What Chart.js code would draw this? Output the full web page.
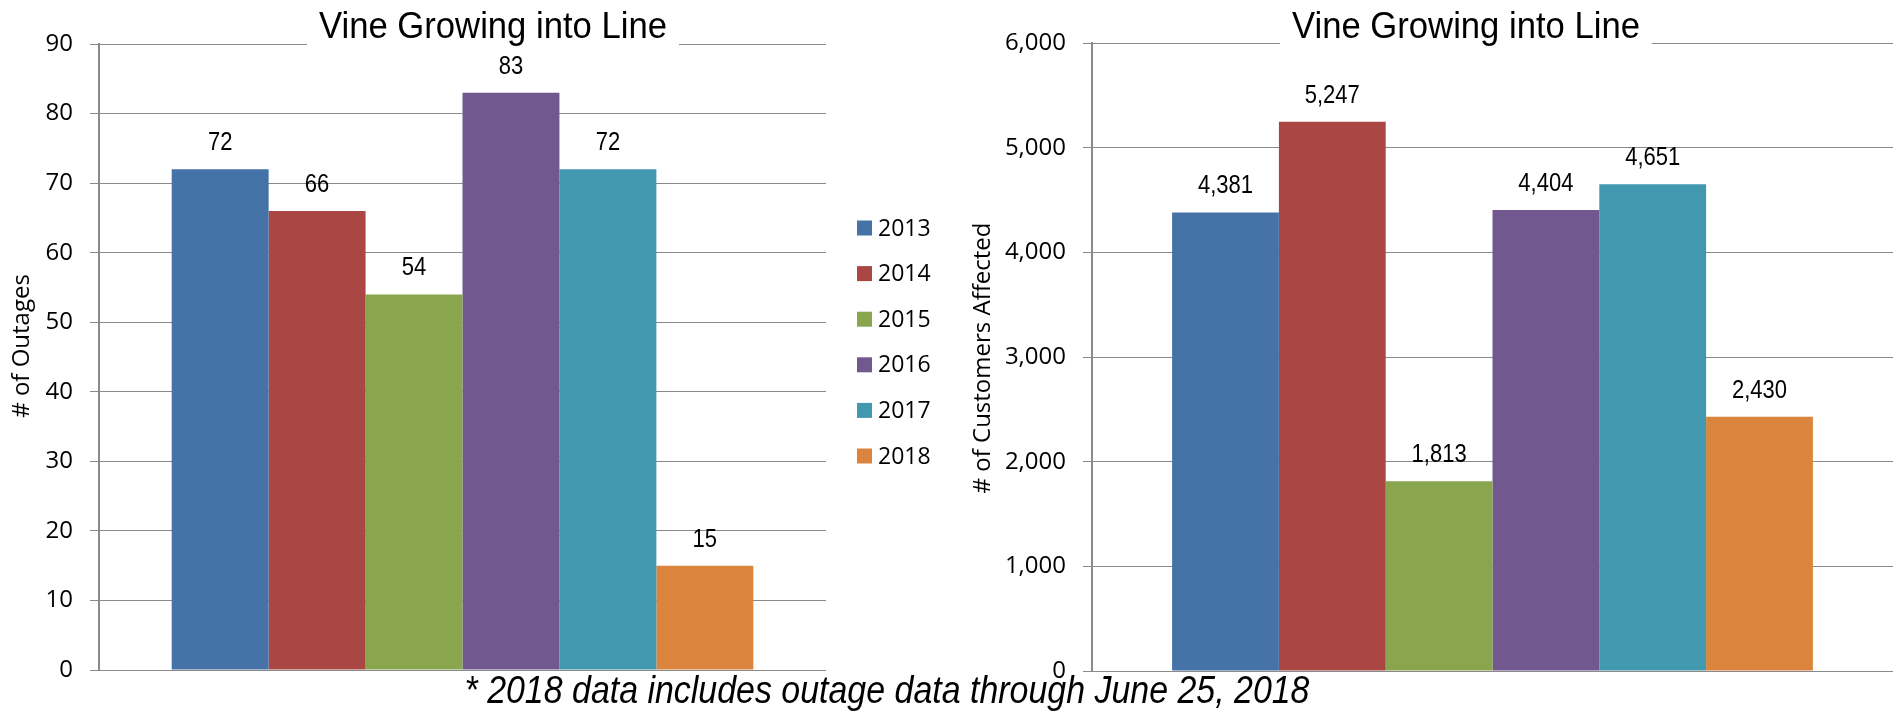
<!DOCTYPE html>
<html>
<head>
<meta charset="utf-8">
<script src="https://cdn.jsdelivr.net/npm/chart.js@4.4.0/dist/chart.umd.min.js"></script>
<style>
html,body{margin:0;padding:0;background:#fff;width:1902px;height:711px;overflow:hidden;}
.wrap{position:absolute;top:0;width:951px;height:711px;}
#note{position:absolute;left:887px;top:671px;font-family:"Liberation Sans",Arial,sans-serif;font-style:italic;font-size:38px;line-height:38px;white-space:nowrap;color:#000;z-index:5;transform-origin:center;}
</style>
</head>
<body>
<div class="wrap" style="left:0"><canvas id="c1" width="951" height="711"></canvas></div>
<div class="wrap" style="left:951px"><canvas id="c2" width="951" height="711"></canvas></div>
<div id="note">* 2018 data includes outage data through June 25, 2018</div>
<script>
// ---- data ----
const chartTitle = 'Vine Growing into Line';
const years = ['2013', '2014', '2015', '2016', '2017', '2018'];
const outages = [72, 66, 54, 83, 72, 15];
const customers = [4381, 5247, 1813, 4404, 4651, 2430];
const outageTicks = [0, 10, 20, 30, 40, 50, 60, 70, 80, 90];
const customerTicks = [0, 1000, 2000, 3000, 4000, 5000, 6000];
const outageAxisTitle = '# of Outages';
const customerAxisTitle = '# of Customers Affected';
const barColors = ['#4572A7', '#AA4643', '#89A54E', '#71588F', '#4198AF', '#DB843D'];

const GRID = '#8a8a8a';
const fmtThousands = v => Number(v).toLocaleString('en-US');
const fmtPlain = v => String(v);

function scaledText(ctx, text, x, y, font, sx, align, baseline) {
  ctx.save();
  ctx.font = font;
  ctx.textAlign = align;
  ctx.textBaseline = baseline;
  ctx.translate(x, y);
  ctx.scale(sx, 1);
  ctx.fillText(text, 0, 0);
  ctx.restore();
}

function titlePlugin(cx, targetW) {
  return {
    id: 'boxTitle',
    afterDraw(chart) {
      const ctx = chart.ctx;
      const font = '36px "Liberation Sans", Arial, sans-serif';
      ctx.save();
      ctx.font = font;
      const w = ctx.measureText(chartTitle).width;
      const sx = targetW / w;
      ctx.fillStyle = '#fff';
      ctx.fillRect(cx - targetW / 2 - 12, 0, targetW + 24, 52);
      ctx.fillStyle = '#000';
      scaledText(ctx, chartTitle, cx, 38, font, sx, 'center', 'alphabetic');
      ctx.restore();
    }
  };
}

function valueLabelPlugin(fmt) {
  return {
    id: 'valueLabels',
    afterDatasetsDraw(chart) {
      const ctx = chart.ctx;
      ctx.save();
      ctx.fillStyle = '#000';
      chart.data.datasets.forEach((ds, i) => {
        const meta = chart.getDatasetMeta(i);
        meta.data.forEach((bar, j) => {
          scaledText(ctx, fmt(ds.data[j]), bar.x, bar.y - 19,
            '25px "Liberation Sans", Arial, sans-serif', 0.88, 'center', 'alphabetic');
        });
      });
      ctx.restore();
    }
  };
}

function axisTitlePlugin(text, cx, cy) {
  return {
    id: 'axisTitle',
    afterDraw(chart) {
      const ctx = chart.ctx;
      ctx.save();
      ctx.font = '24px "Open Sans", sans-serif';
      ctx.fillStyle = '#000';
      ctx.textAlign = 'center';
      ctx.textBaseline = 'middle';
      ctx.translate(cx, cy);
      ctx.rotate(-Math.PI / 2);
      ctx.fillText(text, 0, 0);
      ctx.restore();
    }
  };
}

function legendPlugin(x, y0, dy) {
  return {
    id: 'yearLegend',
    afterDraw(chart) {
      const ctx = chart.ctx;
      ctx.save();
      ctx.font = '23px "Open Sans", sans-serif';
      ctx.textAlign = 'left';
      ctx.textBaseline = 'middle';
      chart.data.datasets.forEach((ds, i) => {
        const y = y0 + i * dy;
        ctx.fillStyle = ds.backgroundColor;
        ctx.fillRect(x, y - 7.5, 15, 15);
        ctx.fillStyle = '#000';
        ctx.fillText(ds.label, x + 21, y + 1);
      });
      ctx.restore();
    }
  };
}

function makeChart(id, values, ticks, fmt, layout, extraPlugins) {
  return new Chart(document.getElementById(id), {
    type: 'bar',
    data: {
      labels: [''],
      datasets: years.map((y, i) => ({
        label: y,
        data: [values[i]],
        backgroundColor: barColors[i],
        borderWidth: 0
      }))
    },
    options: {
      responsive: false,
      animation: false,
      events: [],
      layout: { padding: { left: 0, right: layout.right, top: layout.top, bottom: layout.bottom } },
      datasets: { bar: { categoryPercentage: 0.8, barPercentage: 1 } },
      plugins: { legend: { display: false }, tooltip: { enabled: false }, title: { display: false } },
      scales: {
        x: { display: false },
        y: {
          min: ticks[0],
          max: ticks[ticks.length - 1],
          ticks: {
            stepSize: ticks[1] - ticks[0],
            padding: 17,
            color: '#000',
            font: { family: 'Open Sans', size: 24 },
            callback: v => fmt(v)
          },
          grid: { color: GRID, lineWidth: 1, tickLength: 9, tickColor: GRID, drawTicks: true },
          border: { display: true, color: GRID, width: 2 },
          afterFit: s => { s.width = layout.axisW; }
        }
      }
    },
    plugins: [valueLabelPlugin(fmt)].concat(extraPlugins)
  });
}

makeChart('c1', outages, outageTicks, fmtPlain,
  { right: 125, top: 44, bottom: 41, axisW: 99 },
  [titlePlugin(493, 348), axisTitlePlugin(outageAxisTitle, 22, 346), legendPlugin(857, 228, 45.6)]);

makeChart('c2', customers, customerTicks, fmtThousands,
  { right: 9, top: 43, bottom: 40, axisW: 141 },
  [titlePlugin(1466 - 951, 348), axisTitlePlugin(customerAxisTitle, 32, 358)]);

// footnote: narrow italic look
const note = document.getElementById('note');
const nw = note.getBoundingClientRect().width;
note.style.transform = 'translateX(-50%) scaleX(' + (845 / nw) + ')';
</script>
</body>
</html>
